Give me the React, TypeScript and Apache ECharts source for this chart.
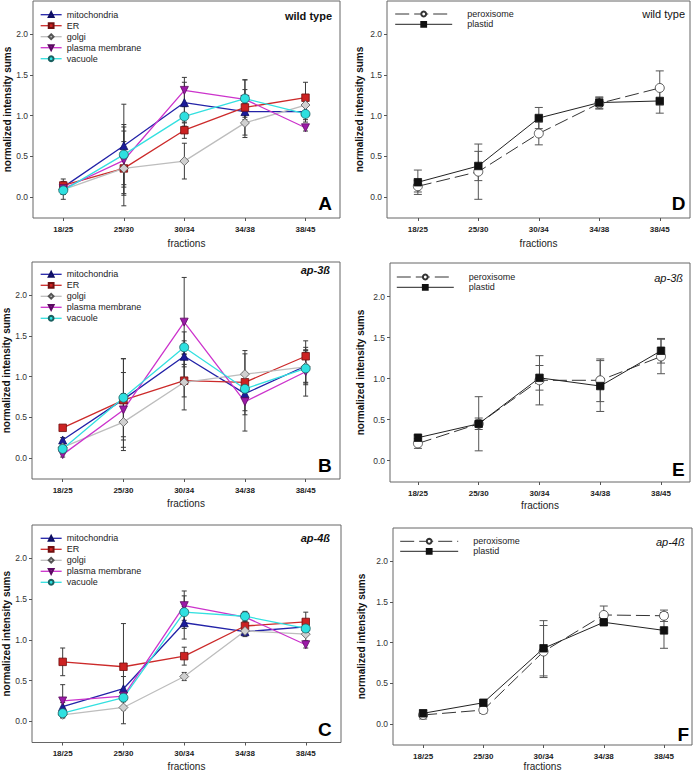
import React, { useEffect, useRef } from 'react';
import * as echarts from 'echarts';

// ---------- data ----------
const categories = ['18/25', '25/30', '30/34', '34/38', '38/45'];
const yTickValues = [0, 0.5, 1, 1.5, 2];
const compartmentNames = ['mitochondria', 'ER', 'golgi', 'plasma membrane', 'vacuole'];
const organelleNames = ['peroxisome', 'plastid'];

// Panel A – wild type
const wtMito = [0.12, 0.63, 1.16, 1.05, 1.05];
const wtMitoErr = [0.06, 0.51, 0.25, 0.10, 0.10];
const wtER = [0.14, 0.35, 0.82, 1.10, 1.22];
const wtERErr = [0.08, 0.33, 0.10, 0.34, 0.19];
const wtGolgi = [0.09, 0.35, 0.44, 0.91, 1.13];
const wtGolgiErr = [0.06, 0.46, 0.22, 0.18, 0.10];
const wtPM = [0.10, 0.45, 1.31, 1.20, 0.85];
const wtPMErr = [0.07, 0.41, 0.16, 0.12, 0.04];
const wtVac = [0.08, 0.52, 0.99, 1.21, 1.02];
const wtVacErr = [0.11, 0.37, 0.12, 0.23, 0.10];

// Panel D – wild type
const wtPerox = [0.13, 0.31, 0.78, 1.15, 1.34];
const wtPeroxErr = [0.07, 0.34, 0.14, 0.07, 0.21];
const wtPlastid = [0.18, 0.38, 0.97, 1.16, 1.18];
const wtPlastidErr = [0.15, 0.18, 0.13, 0.07, 0.15];

// Panel B – ap-3ß
const ap3Mito = [0.22, 0.72, 1.25, 0.79, 1.13];
const ap3MitoErr = [0.03, 0.50, 0.30, 0.26, 0.20];
const ap3ER = [0.37, 0.71, 0.95, 0.93, 1.25];
const ap3ERErr = [0.02, 0.08, 0.20, 0.35, 0.19];
const ap3Golgi = [0.13, 0.44, 0.93, 1.03, 1.12];
const ap3GolgiErr = [0.03, 0.35, 0.34, 0.29, 0.20];
const ap3PM = [0.04, 0.59, 1.67, 0.69, 1.06];
const ap3PMErr = [0.03, 0.46, 0.55, 0.36, 0.30];
const ap3Vac = [0.11, 0.74, 1.36, 0.85, 1.10];
const ap3VacErr = [0.04, 0.48, 0.08, 0.10, 0.20];

// Panel E – ap-3ß
const ap3Perox = [0.21, 0.45, 0.98, 0.98, 1.27];
const ap3PeroxErr = [0.06, 0.33, 0.30, 0.26, 0.21];
const ap3Plastid = [0.28, 0.45, 1.01, 0.91, 1.34];
const ap3PlastidErr = [0.03, 0.07, 0.15, 0.31, 0.15];

// Panel C – ap-4ß
const ap4Mito = [0.18, 0.40, 1.21, 1.10, 1.16];
const ap4MitoErr = [0.05, 0.15, 0.20, 0.06, 0.06];
const ap4ER = [0.73, 0.67, 0.80, 1.17, 1.22];
const ap4ERErr = [0.17, 0.53, 0.11, 0.06, 0.12];
const ap4Golgi = [0.08, 0.17, 0.55, 1.11, 1.07];
const ap4GolgiErr = [0.04, 0.20, 0.05, 0.05, 0.08];
const ap4PM = [0.25, 0.31, 1.42, 1.28, 0.94];
const ap4PMErr = [0.20, 0.05, 0.18, 0.06, 0.04];
const ap4Vac = [0.10, 0.29, 1.34, 1.29, 1.14];
const ap4VacErr = [0.05, 0.05, 0.20, 0.06, 0.08];

// Panel F – ap-4ß
const ap4Perox = [0.11, 0.17, 0.89, 1.34, 1.33];
const ap4PeroxErr = [0.05, 0.04, 0.32, 0.11, 0.07];
const ap4Plastid = [0.13, 0.26, 0.93, 1.25, 1.15];
const ap4PlastidErr = [0.04, 0.02, 0.34, 0.02, 0.22];

// ---------- styles ----------
const FONT = '"Liberation Sans", Arial, Helvetica, sans-serif';

const leftStyles = [
  { symbol: 'triangle', rotate: 0, line: '#2323a8', fill: '#1c1c9a', border: '#0e0e60', size: 8 },
  { symbol: 'rect', rotate: 0, line: '#cc2a2a', fill: '#cc2222', border: '#701010', size: 7.5 },
  { symbol: 'diamond', rotate: 0, line: '#bdbdbd', fill: '#d0d0d0', border: '#555555', size: 9 },
  { symbol: 'triangle', rotate: 180, line: '#cc33cc', fill: '#9c1aa8', border: '#5a0a60', size: 8 },
  { symbol: 'circle', rotate: 0, line: '#33e0e0', fill: '#2ee0e0', border: '#1a6060', size: 9 },
];

const rightStyles = [
  { symbol: 'circle', rotate: 0, line: '#333333', fill: '#ffffff', border: '#333333', size: 9, dash: [14, 5] as any },
  { symbol: 'rect', rotate: 0, line: '#222222', fill: '#111111', border: '#111111', size: 7.5, dash: 'solid' as any },
];

type Panel = {
  kind: 'left' | 'right';
  grid: { left: number; top: number; width: number; height: number };
  xMin: number;
  xMax: number;
  yNameGap: number;
  xNameGap: number;
  values: number[][];
  errs: number[][];
  title: string;
  titleBold: boolean;
  titleItalic: boolean;
  titlePos: [number, number];
  letter: string;
  letterPos: [number, number];
  legendPos: { left: number; top: number; lineHeight: number; itemWidth: number };
};

const panels: Panel[] = [
  {
    kind: 'left', grid: { left: 33, top: 1, width: 307, height: 217 }, xMin: -0.5, xMax: 4.57,
    yNameGap: 21, xNameGap: 20,
    values: [wtMito, wtER, wtGolgi, wtPM, wtVac], errs: [wtMitoErr, wtERErr, wtGolgiErr, wtPMErr, wtVacErr],
    title: 'wild type', titleBold: true, titleItalic: false, titlePos: [332, 15.5],
    letter: 'A', letterPos: [332, 203], legendPos: { left: 40, top: 9.2, lineHeight: 11, itemWidth: 21 },
  },
  {
    kind: 'right', grid: { left: 387, top: 1, width: 303, height: 217 }, xMin: -0.51, xMax: 4.5,
    yNameGap: 22.5, xNameGap: 20,
    values: [wtPerox, wtPlastid], errs: [wtPeroxErr, wtPlastidErr],
    title: 'wild type', titleBold: false, titleItalic: false, titlePos: [685, 14],
    letter: 'D', letterPos: [685.5, 203.3], legendPos: { left: 394.7, top: 8.85, lineHeight: 10.3, itemWidth: 57 },
  },
  {
    kind: 'left', grid: { left: 32, top: 262, width: 308, height: 217 }, xMin: -0.505, xMax: 4.565,
    yNameGap: 21, xNameGap: 19,
    values: [ap3Mito, ap3ER, ap3Golgi, ap3PM, ap3Vac], errs: [ap3MitoErr, ap3ERErr, ap3GolgiErr, ap3PMErr, ap3VacErr],
    title: 'ap-3ß', titleBold: true, titleItalic: true, titlePos: [330, 270],
    letter: 'B', letterPos: [331.7, 465.7], legendPos: { left: 40, top: 268.8, lineHeight: 11, itemWidth: 21 },
  },
  {
    kind: 'right', grid: { left: 390, top: 263, width: 300, height: 219 }, xMin: -0.46, xMax: 4.477,
    yNameGap: 25, xNameGap: 18,
    values: [ap3Perox, ap3Plastid], errs: [ap3PeroxErr, ap3PlastidErr],
    title: 'ap-3ß', titleBold: false, titleItalic: true, titlePos: [683, 278],
    letter: 'E', letterPos: [684.7, 469], legendPos: { left: 396.3, top: 271.85, lineHeight: 10.3, itemWidth: 57 },
  },
  {
    kind: 'left', grid: { left: 32, top: 525, width: 309, height: 218 }, xMin: -0.505, xMax: 4.58,
    yNameGap: 21, xNameGap: 18.5,
    values: [ap4Mito, ap4ER, ap4Golgi, ap4PM, ap4Vac], errs: [ap4MitoErr, ap4ERErr, ap4GolgiErr, ap4PMErr, ap4VacErr],
    title: 'ap-4ß', titleBold: true, titleItalic: true, titlePos: [330, 538.3],
    letter: 'C', letterPos: [331.7, 729], legendPos: { left: 40, top: 532.8, lineHeight: 11, itemWidth: 21 },
  },
  {
    kind: 'right', grid: { left: 393, top: 528, width: 299, height: 218 }, xMin: -0.5, xMax: 4.465,
    yNameGap: 26.5, xNameGap: 16,
    values: [ap4Perox, ap4Plastid], errs: [ap4PeroxErr, ap4PlastidErr],
    title: 'ap-4ß', titleBold: false, titleItalic: true, titlePos: [684.7, 541.7],
    letter: 'F', letterPos: [689, 734], legendPos: { left: 399.7, top: 536.3, lineHeight: 10, itemWidth: 58 },
  },
];

function buildOption() {
  const grids: any[] = [];
  const xAxes: any[] = [];
  const yAxes: any[] = [];
  const series: any[] = [];
  const legends: any[] = [];
  const graphics: any[] = [];
  const xIdx = [0, 1, 2, 3, 4];

  panels.forEach((p, gi) => {
    grids.push({
      ...p.grid,
      show: true,
      borderColor: '#666',
      borderWidth: 1,
      backgroundColor: 'transparent',
      containLabel: false,
    });
    xAxes.push({
      gridIndex: gi,
      type: 'value',
      position: 'bottom',
      min: p.xMin,
      max: p.xMax,
      splitLine: { show: false },
      axisLine: { show: false, onZero: false },
      axisTick: { show: true, customValues: xIdx, length: 3, lineStyle: { color: '#555' } },
      axisLabel: {
        customValues: xIdx,
        formatter: (v: number) => categories[Math.round(v)] ?? '',
        fontFamily: FONT,
        fontWeight: 'bold',
        fontSize: 8,
        color: '#222',
        margin: 7,
      },
      name: 'fractions',
      nameLocation: 'middle',
      nameGap: p.xNameGap,
      nameTextStyle: { fontFamily: FONT, fontSize: 10, color: '#222' },
    });
    yAxes.push({
      gridIndex: gi,
      type: 'value',
      position: 'left',
      min: -0.26,
      max: 2.41,
      splitLine: { show: false },
      axisLine: { show: false, onZero: false },
      axisTick: { show: true, customValues: yTickValues, length: 3, lineStyle: { color: '#555' } },
      axisLabel: {
        customValues: yTickValues,
        formatter: (v: number) => v.toFixed(1),
        fontFamily: FONT,
        fontSize: 8.5,
        color: '#333',
        margin: 5,
      },
      name: 'normalized intensity sums',
      nameLocation: 'middle',
      nameGap: p.yNameGap,
      nameTextStyle: { fontFamily: FONT, fontSize: 10, fontWeight: 'bold', color: '#111' },
    });

    const styles = p.kind === 'left' ? leftStyles : rightStyles;
    const names = p.kind === 'left' ? compartmentNames : organelleNames;

    // error bars
    const errData: number[][] = [];
    p.values.forEach((vals, si) => {
      vals.forEach((v, i) => {
        errData.push([i, v - p.errs[si][i], v + p.errs[si][i]]);
      });
    });
    const cap = p.kind === 'left' ? 2.5 : 4;
    const errColor = p.kind === 'left' ? '#3a3a3a' : '#555';
    series.push({
      type: 'custom',
      name: 'err' + gi,
      xAxisIndex: gi,
      yAxisIndex: gi,
      z: 2,
      silent: true,
      data: errData,
      encode: { x: 0, y: [1, 2] },
      renderItem: (params: any, api: any) => {
        const x = api.value(0);
        const lo = api.coord([x, api.value(1)]);
        const hi = api.coord([x, api.value(2)]);
        const style = { stroke: errColor, lineWidth: 1, fill: 'none' };
        return {
          type: 'group',
          children: [
            { type: 'line', shape: { x1: lo[0], y1: lo[1], x2: hi[0], y2: hi[1] }, style },
            { type: 'line', shape: { x1: lo[0] - cap, y1: lo[1], x2: lo[0] + cap, y2: lo[1] }, style },
            { type: 'line', shape: { x1: hi[0] - cap, y1: hi[1], x2: hi[0] + cap, y2: hi[1] }, style },
          ],
        };
      },
    });

    p.values.forEach((vals, si) => {
      const st: any = styles[si];
      series.push({
        type: 'line',
        name: names[si],
        xAxisIndex: gi,
        yAxisIndex: gi,
        z: 3,
        data: vals.map((v, i) => [i, v]),
        symbol: st.symbol,
        symbolSize: st.size,
        symbolRotate: st.rotate,
        showAllSymbol: true,
        lineStyle: { color: st.line, width: p.kind === 'left' ? 1.3 : 1, type: st.dash ?? 'solid' },
        itemStyle: { color: st.fill, borderColor: st.border, borderWidth: 0.8 },
        emphasis: { disabled: true },
      });
    });

    legends.push({
      orient: 'vertical',
      left: p.legendPos.left,
      top: p.legendPos.top,
      itemWidth: p.legendPos.itemWidth,
      itemHeight: 6,
      itemGap: 0,
      padding: 0,
      selectedMode: false,
      data: names,
      lineStyle: { width: p.kind === 'left' ? 1.3 : 1 },
      textStyle: {
        fontFamily: FONT,
        fontSize: 9,
        color: '#222',
        lineHeight: p.legendPos.lineHeight,
        padding: p.kind === 'right' ? [0, 0, 0, 10] : 0,
      },
    });

    graphics.push({
      type: 'text',
      x: p.titlePos[0],
      y: p.titlePos[1],
      style: {
        text: p.title,
        fontFamily: FONT,
        fontSize: 11,
        fontWeight: p.titleBold ? 'bold' : 'normal',
        fontStyle: p.titleItalic ? 'italic' : 'normal',
        fill: '#111',
        textAlign: 'right',
        textVerticalAlign: 'middle',
      },
    });
    graphics.push({
      type: 'text',
      x: p.letterPos[0],
      y: p.letterPos[1],
      style: {
        text: p.letter,
        fontFamily: FONT,
        fontSize: 19,
        fontWeight: 'bold',
        fill: '#000',
        textAlign: 'right',
        textVerticalAlign: 'middle',
      },
    });
  });

  return {
    animation: false,
    backgroundColor: '#ffffff',
    grid: grids,
    xAxis: xAxes,
    yAxis: yAxes,
    legend: legends,
    series,
    graphic: graphics,
  };
}

export default function App() {
  const ref = useRef<HTMLDivElement>(null);
  useEffect(() => {
    if (!ref.current) return;
    const chart = echarts.init(ref.current, null, { renderer: 'svg' });
    chart.setOption(buildOption() as any);
    return () => chart.dispose();
  }, []);
  return (
    <div
      ref={ref}
      style={{ position: 'absolute', left: 0, top: 0, width: 696, height: 772, background: '#fff' }}
    />
  );
}
